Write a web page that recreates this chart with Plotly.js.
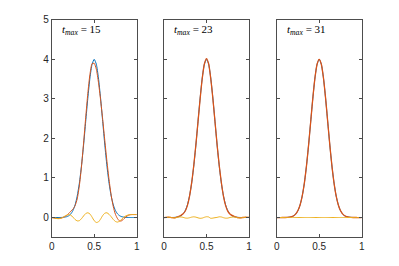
<!DOCTYPE html>
<html>
<head>
<meta charset="utf-8">
<script src="https://cdn.plot.ly/plotly-3.0.1.min.js"></script>
<style>html,body{margin:0;padding:0;background:#fff;}#chart{width:399px;height:266px;}</style>
</head>
<body>
<div id="chart"></div>
<script>
// grid positions (x)
const xs = [0,0.025,0.05,0.075,0.1,0.125,0.15,0.175,0.2,0.225,0.25,0.275,0.3,0.325,0.35,0.375,0.4,0.425,0.45,0.475,0.5,0.525,0.55,0.575,0.6,0.625,0.65,0.675,0.7,0.725,0.75,0.775,0.8,0.825,0.85,0.875,0.9,0.925,0.95,0.975,1];
// exact solution (blue)
const exact = [0,0,0,0.0005,0.0013,0.0035,0.009,0.02,0.044,0.091,0.176,0.318,0.541,0.865,1.299,1.831,2.426,3.019,3.53,3.877,4.0,3.877,3.53,3.019,2.426,1.831,1.299,0.865,0.541,0.318,0.176,0.091,0.044,0.02,0.009,0.0035,0.0013,0.0005,0,0,0];
// approximations (red)
const approx15 = [0,-0.01,-0.02,-0.025,-0.02,-0.005,0.02,0.05,0.10,0.16,0.21,0.30,0.47,0.80,1.28,1.88,2.53,3.14,3.62,3.89,3.90,3.75,3.42,2.98,2.48,1.94,1.42,0.95,0.56,0.27,0.08,-0.03,-0.09,-0.08,-0.03,0.02,0.055,0.07,0.075,0.075,0.075];
const approx23 = [0,0.004,0.008,0.0045,-0.0047,-0.0065,0.009,0.032,0.059,0.095,0.164,0.302,0.535,0.875,1.317,1.841,2.418,2.999,3.516,3.883,4.02,3.891,3.51,3.005,2.422,1.835,1.317,0.879,0.537,0.302,0.162,0.091,0.056,0.032,0.011,-0.0045,-0.0067,0.0005,0.006,0.006,0.004];
const approx31 = [0,0,0,0.0005,0.0013,0.0035,0.009,0.02,0.044,0.091,0.176,0.318,0.541,0.865,1.299,1.831,2.426,3.019,3.53,3.877,4.0,3.877,3.53,3.019,2.426,1.831,1.299,0.865,0.541,0.318,0.176,0.091,0.044,0.02,0.009,0.0035,0.0013,0.0005,0,0,0];
// errors (yellow)
const err15 = [0,-0.01,-0.02,-0.03,-0.025,-0.005,0.03,0.06,0.075,0.06,0.01,-0.05,-0.085,-0.08,-0.03,0.04,0.10,0.12,0.09,0.01,-0.08,-0.125,-0.11,-0.04,0.05,0.11,0.12,0.08,0.02,-0.05,-0.10,-0.115,-0.09,-0.04,0.01,0.045,0.065,0.075,0.075,0.075,0.075];
const err23 = [0,0.004,0.008,0.004,-0.006,-0.01,0,0.012,0.015,0.004,-0.012,-0.016,-0.006,0.01,0.018,0.01,-0.008,-0.02,-0.014,0.006,0.02,0.014,-0.02,-0.014,-0.004,0.004,0.018,0.014,-0.004,-0.016,-0.014,0,0.012,0.012,0.002,-0.008,-0.008,0,0.006,0.006,0.004];
const err31 = [0,0,0,0,0,0,0,0,0,0,0,0,0,0,0,0,0,0,0,0,0,0,0,0,0,0,0,0,0,0,0,0,0,0,0,0,0,0,0,0,0];
const panelLabels = ['15','23','31'];
const xTickVals = [0,0.5,1];
const xTickText = ['0','0.5','1'];
const yTickVals = [0,1,2,3,4,5];

const BLUE='#0072BD', RED='#D95319', YEL='#EDB120';
const approx=[approx15,approx23,approx31], errs=[err15,err23,err31];
const W=399,H=266;
const xl=[51.7,164,276.7], pw=85;
const yTop=19.8, yBot=237.3;
const traces=[]; const layout={width:W,height:H,margin:{l:0,r:0,t:0,b:0},showlegend:false,
  paper_bgcolor:'#fff',plot_bgcolor:'#fff',font:{family:'Liberation Sans, Arial, sans-serif',size:10,color:'#262626'},annotations:[]};
for(let i=0;i<3;i++){
  const xa = i===0?'x':'x'+(i+1), ya = i===0?'y':'y'+(i+1);
  traces.push({x:xs,y:exact,xaxis:xa,yaxis:ya,mode:'lines',line:{color:BLUE,width:1,shape:'spline',smoothing:0.6}});
  traces.push({x:xs,y:approx[i],xaxis:xa,yaxis:ya,mode:'lines',line:{color:RED,width:i===0?1:1.3,shape:'spline',smoothing:0.6}});
  traces.push({x:xs,y:errs[i],xaxis:xa,yaxis:ya,mode:'lines',line:{color:YEL,width:1,shape:'spline',smoothing:0.6}});
  const axCommon={showgrid:false,zeroline:false,showline:true,linecolor:'#4d4d4d',linewidth:1,mirror:'ticks',
    ticks:'inside',ticklen:3,tickwidth:1,tickcolor:'#4d4d4d',automargin:false,tickfont:{size:10,color:'#262626'}};
  layout['xaxis'+(i===0?'':i+1)]=Object.assign({},axCommon,{domain:[xl[i]/W,(xl[i]+pw)/W],range:[0,1],
    tickvals:xTickVals,ticktext:xTickText,anchor:ya,fixedrange:true});
  layout['yaxis'+(i===0?'':i+1)]=Object.assign({},axCommon,{domain:[1-yBot/H,1-yTop/H],range:[-0.5,5],
    tickvals:yTickVals,showticklabels:i===0,anchor:xa,fixedrange:true});
  layout.annotations.push({xref:xa+' domain',yref:ya+' domain',x:0.095,y:0.953,xanchor:'left',yanchor:'middle',
    showarrow:false,text:'<i>t</i><sub><i>max</i></sub> = '+panelLabels[i],
    font:{family:'Liberation Serif, Times New Roman, serif',size:11,color:'#000'}});
}
Plotly.newPlot('chart',traces,layout,{staticPlot:true,displayModeBar:false});
</script>
</body>
</html>
